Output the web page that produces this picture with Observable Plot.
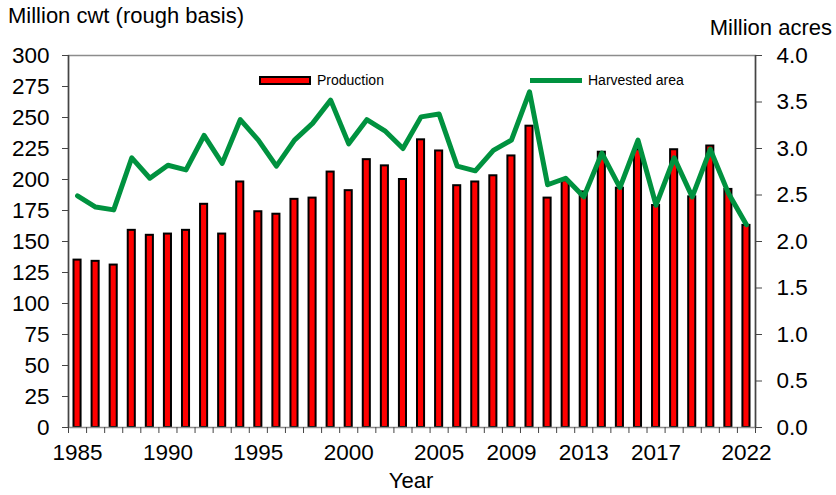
<!DOCTYPE html>
<html><head><meta charset="utf-8">
<script src="https://cdn.jsdelivr.net/npm/d3@7"></script>
<script src="https://cdn.jsdelivr.net/npm/@observablehq/plot@0.6"></script>
<style>
body{margin:0;background:#fff;font-family:"Liberation Sans",Arial,sans-serif;}
#wrap{position:relative;width:836px;height:495px;overflow:hidden;}
.t{position:absolute;font-size:22px;line-height:22px;color:#000;white-space:nowrap;}
.lg{position:absolute;font-size:14px;line-height:16px;color:#000;white-space:nowrap;}
</style></head><body><div id="wrap"></div>
<script>
const years = [1985,1986,1987,1988,1989,1990,1991,1992,1993,1994,1995,1996,1997,1998,1999,2000,2001,2002,2003,2004,2005,2006,2007,2008,2009,2010,2011,2012,2013,2014,2015,2016,2017,2018,2019,2020,2021,2022];
const production = [135,134,131,159,155,156,159,180,156,198,174,172,184,185,206,191,216,211,200,232,223,195,198,203,219,243,185,199,190,222,193,224,179,224,186,227,192,163];
const area = [2.49,2.37,2.34,2.90,2.68,2.82,2.77,3.14,2.84,3.31,3.09,2.81,3.09,3.27,3.52,3.05,3.31,3.19,3.00,3.34,3.37,2.81,2.76,2.98,3.09,3.61,2.61,2.68,2.48,2.95,2.58,3.09,2.39,2.90,2.48,2.99,2.52,2.18];
const labelYears = [1985,1990,1995,2000,2005,2009,2013,2017,2022];
const leftTicks = [0,25,50,75,100,125,150,175,200,225,250,275,300];
const rightTicks = [0,0.5,1.0,1.5,2.0,2.5,3.0,3.5,4.0];
const leftTitle = "Million cwt (rough basis)";
const rightTitle = "Million acres";
const xTitle = "Year";
const seriesNames = ["Production","Harvested area"];

const k = 300 / 4; // left-axis units per right-axis unit
const data = years.map((y, i) => ({year: y, prod: production[i], area: area[i]}));
const boundaries = years.map(y => y - 0.5).concat([years[years.length - 1] + 0.5]);
const font = '"Liberation Sans", Arial, sans-serif';

const chart = Plot.plot({
  width: 836, height: 495,
  marginTop: 55, marginBottom: 68, marginLeft: 68, marginRight: 81,
  style: {fontFamily: font, fontSize: "22px", color: "#000", background: "transparent"},
  x: {type: "linear", domain: [1984.5, 2022.5]},
  y: {domain: [0, 300]},
  marks: [
    Plot.rectY(data, {x1: d => d.year - 0.5, x2: d => d.year + 0.5, y1: 0, y2: "prod",
      fill: "#ff0000", stroke: "#000", strokeWidth: 2, insetLeft: 5.5, insetRight: 5.5}),
    Plot.line(data, {x: "year", y: d => d.area * k, stroke: "#00923f", strokeWidth: 5}),
    Plot.frame({stroke: "#8c8c8c", strokeWidth: 1.5}),
    Plot.ruleX([1984.5, 2022.5], {stroke: "#444", strokeWidth: 1.5}),
    Plot.axisY({anchor: "left", ticks: leftTicks, tickSize: 6, tickPadding: 13, label: null,
      tickFormat: d => String(d), stroke: "#444", fontSize: 22.5}),
    Plot.axisY({anchor: "right", ticks: rightTicks.map(v => v * k), tickSize: 6, tickPadding: 15, label: null,
      tickFormat: d => (d / k).toFixed(1), stroke: "#444", fontSize: 22.5}),
    Plot.axisX({ticks: boundaries, tickSize: 6, tickFormat: () => "", label: null, stroke: "#444"}),
    Plot.axisX({ticks: labelYears, tickSize: 0, tickPadding: 17, label: null,
      tickFormat: d => String(d), fontSize: 22.5})
  ]
});

const wrap = document.getElementById("wrap");
wrap.appendChild(chart);
chart.style.position = "absolute"; chart.style.left = "0"; chart.style.top = "0";

function addDiv(cls, text, css) {
  const d = document.createElement("div");
  d.className = cls; d.textContent = text;
  Object.assign(d.style, css);
  wrap.appendChild(d);
  return d;
}
addDiv("t", leftTitle, {left: "8px", top: "5px"});
addDiv("t", rightTitle, {right: "4px", top: "17px"});
addDiv("t", xTitle, {left: "411px", top: "470px", transform: "translateX(-50%)"});

// legend
const sw1 = document.createElement("div");
Object.assign(sw1.style, {position: "absolute", left: "259px", top: "76px", width: "52px", height: "9px",
  boxSizing: "border-box", background: "#ff0000", border: "2px solid #000"});
wrap.appendChild(sw1);
addDiv("lg", seriesNames[0], {left: "317px", top: "72px"});
const sw2 = document.createElement("div");
Object.assign(sw2.style, {position: "absolute", left: "530px", top: "78px", width: "52px", height: "5px",
  background: "#00923f"});
wrap.appendChild(sw2);
addDiv("lg", seriesNames[1], {left: "588px", top: "72px"});
</script>
</body></html>
